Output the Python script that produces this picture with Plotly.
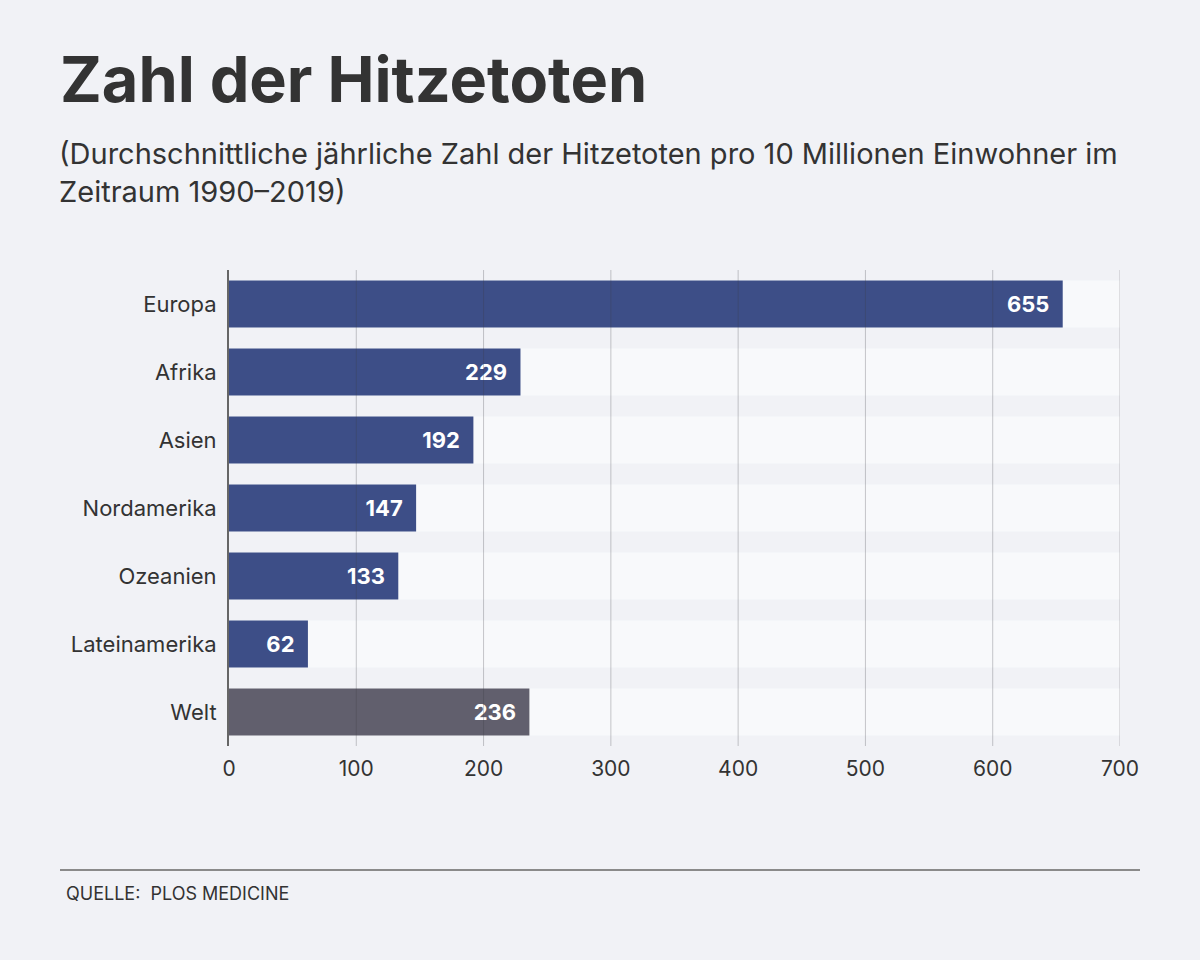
import plotly.graph_objects as go

# data
regions = ["Europa", "Afrika", "Asien", "Nordamerika", "Ozeanien", "Lateinamerika", "Welt"]
deaths = [655, 229, 192, 147, 133, 62, 236]
x_ticks = [0, 100, 200, 300, 400, 500, 600, 700]
x_max = 700

title = "Zahl der Hitzetoten"
subtitle = ("(Durchschnittliche jährliche Zahl der Hitzetoten pro 10 Millionen Einwohner im<br>"
            "Zeitraum 1990–2019)")
source = "QUELLE:  PLOS MEDICINE"

W, H = 1200, 960
L, R, T, B = 229, 80, 270, 214
FONT = "Inter, Lato, sans-serif"
BG = "#f1f2f6"
BAR = "#3d4e87"
WORLD = "#615f6d"
BAND = "#f8f9fb"
TEXT = "#333333"


def px(x):
    """ pixel x -> paper x """
    return (x - L) / (W - L - R)


def py(y):
    """ pixel y -> paper y """
    return 1 - (y - T) / (H - T - B)


colours = [WORLD if r == "Welt" else BAR for r in regions]

fig = go.Figure()
# light band behind each bar
fig.add_trace(go.Bar(y=regions, x=[x_max] * len(regions), orientation="h",
                     marker_color=BAND, marker_line_width=0, hoverinfo="skip",
                     showlegend=False))
fig.add_trace(go.Bar(y=regions, x=deaths, orientation="h", marker_color=colours,
                     marker_line_width=0, texttemplate="%{x}\u00a0\u00a0", textposition="inside",
                     insidetextanchor="end", cliponaxis=False,
                     textfont=dict(family=FONT, size=22, color="white", weight=700),
                     showlegend=False))

# grid lines above the bars
for t in x_ticks[1:]:
    fig.add_shape(type="line", xref="x", yref="paper", x0=t, x1=t, y0=0, y1=1,
                  line=dict(color="rgba(60,60,70,0.28)", width=1), layer="above")

fig.update_layout(
    width=W, height=H, margin=dict(l=L, r=R, t=T, b=B),
    paper_bgcolor=BG, plot_bgcolor=BG,
    barmode="overlay", bargap=0.31,
    font=dict(family=FONT, color=TEXT),
    uniformtext=dict(minsize=22, mode="show"),
    xaxis=dict(range=[0, x_max], tickvals=x_ticks, showgrid=False, zeroline=False,
               tickfont=dict(size=21, color=TEXT), ticks="", ticklabelstandoff=8),
    yaxis=dict(autorange="reversed", showgrid=False, zeroline=False, showline=True,
               linecolor="#666666", linewidth=2, ticks="", ticklabelstandoff=6,
               tickfont=dict(size=22, color=TEXT)),
)

fig.add_annotation(text=title, xref="paper", yref="paper", x=px(58), y=py(119),
                   xanchor="left", yanchor="bottom", showarrow=False,
                   font=dict(size=63, color=TEXT, weight=700))
fig.add_annotation(text=subtitle, xref="paper", yref="paper", x=px(57), y=py(134),
                   xanchor="left", yanchor="top", showarrow=False, align="left",
                   font=dict(size=29, color=TEXT))

# footer rule + source
fig.add_shape(type="line", xref="paper", yref="paper", x0=px(60), x1=px(1140),
              y0=py(870), y1=py(870), line=dict(color="#8a8a8a", width=2))
fig.add_annotation(text=source, xref="paper", yref="paper", x=px(64), y=py(893),
                   xanchor="left", yanchor="middle", showarrow=False,
                   font=dict(size=18, color=TEXT))

fig.write_html("out.html", config={"displayModeBar": False},
               post_script="document.body.style.margin='0';")
